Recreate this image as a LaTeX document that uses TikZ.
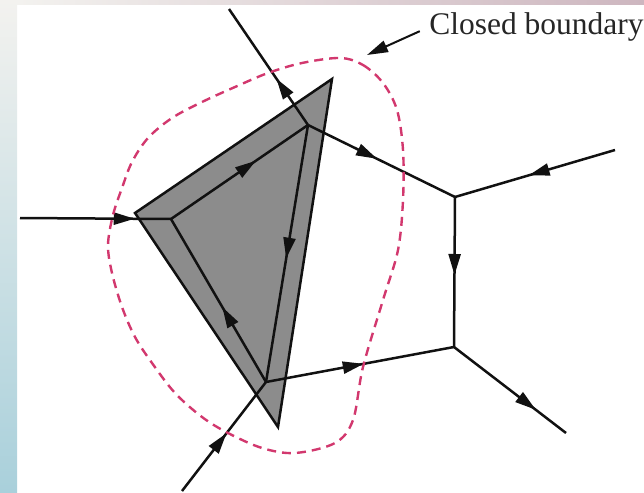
\documentclass[tikz,border=0pt]{standalone}
\usepackage{fontspec}
\setmainfont{Liberation Serif}
\usetikzlibrary{arrows.meta,decorations.markings}
\definecolor{wire}{HTML}{111111}
\definecolor{panel}{HTML}{8C8C8C}
\definecolor{loopred}{HTML}{D2386E}
\definecolor{skyleft}{HTML}{A9D0DB}
\definecolor{skymid}{HTML}{C9E0E6}
\definecolor{paleleft}{HTML}{F3F2EF}
\definecolor{mauve}{HTML}{CDB6BF}

\begin{document}
\begin{tikzpicture}[x=1pt,y=-1pt,line width=2.5pt,
  tip/.tip={Triangle[length=21pt,width=12pt]},
  flow/.style={postaction={decorate,decoration={markings,mark=at position #1 with {\arrow{tip}}}}}]
\useasboundingbox (0,0) rectangle (644,492);
% backdrop
\shade[top color=paleleft,middle color=skymid,bottom color=skyleft] (0,0) rectangle (17,492);
\shade[left color=paleleft,right color=mauve] (17,0) rectangle (644,5);
% shaded region
\filldraw[fill=panel,draw=wire] (135,213) -- (332,79) -- (278,427) -- cycle;
% junctions and free ends
\coordinate (A) at (171,219);
\coordinate (B) at (308,125);
\coordinate (C) at (266,382);
\coordinate (D) at (455,197);
\coordinate (E) at (454,347);
\coordinate (inL) at (20,218);
\coordinate (outT) at (229,9);
\coordinate (inR) at (615,150);
\coordinate (inB) at (182,491);
\coordinate (outBR) at (566,433);
\draw[wire,flow=.76] (inL) -- (A);
\draw[wire,flow=.62] (A) -- (B);
\draw[wire,flow=.52] (B) -- (C);
\draw[wire,flow=.46] (C) -- (A);
\draw[wire,flow=.40] (B) -- (outT);
\draw[wire,flow=.47] (B) -- (D);
\draw[wire,flow=.54] (inR) -- (D);
\draw[wire,flow=.52] (D) -- (E);
\draw[wire,flow=.52] (C) -- (E);
\draw[wire,flow=.73] (E) -- (outBR);
\draw[wire,flow=.53] (inB) -- (C);
% closed boundary
\draw[loopred,line width=2.4pt,dash pattern=on 9pt off 6pt] plot[smooth cycle,tension=.55] coordinates {
  (340,58) (363,65) (383,83) (397,110) (403,150) (403,200) (398,250) (383,300)
  (363,367) (353,420) (335,443) (295,453) (262,448) (228,433) (202,417) (175,393)
  (152,363) (135,337) (122,307) (112,273) (108,245) (113,215) (122,188) (132,162)
  (148,138) (172,118) (202,102) (235,87) (268,73) (302,63)};
\node[anchor=base west,font=\fontsize{31.5}{36}\selectfont,text=black!85,inner sep=0] (lbl) at (428,35) {Closed boundary};
\coordinate (tipB) at (367,55);
\draw[wire,line width=2pt,-tip,shorten <=9pt] (lbl.west) -- (tipB);
\end{tikzpicture}
\end{document}
